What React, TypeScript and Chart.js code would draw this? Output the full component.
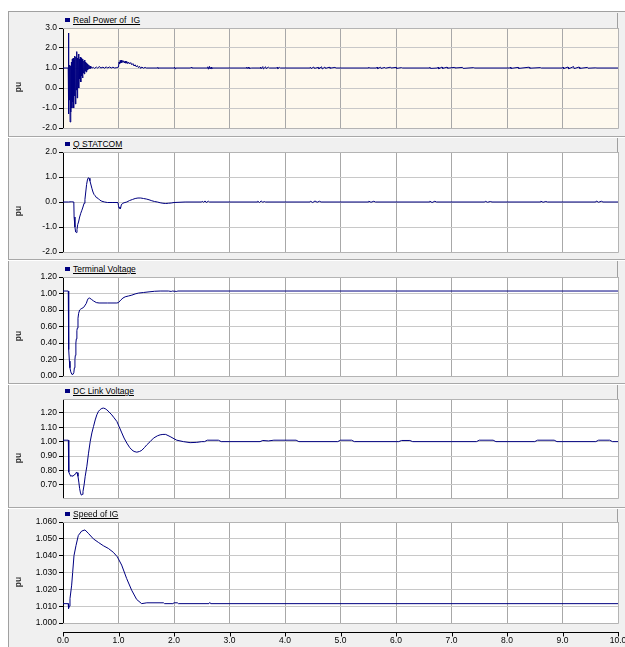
import React, { useEffect, useRef } from 'react';
import { Chart, registerables } from 'chart.js';

Chart.register(...registerables);

type Pt = [number, number];

// ---------- data (time in s, value in pu) ----------
const realPower: Pt[] = [
  [0, 1.0], [0.09, 1.0], [0.094, 1.0], [0.097, 2.75], [0.101, -1.3], [0.107, 1.2], [0.114, -0.6], [0.121, 1.15],
  [0.128, -1.7], [0.136, 1.1], [0.144, -1.2], [0.152, 1.3], [0.16, -1.0], [0.168, 1.45], [0.176, -0.7], [0.184, 1.5],
  [0.192, -1.0], [0.2, 1.4], [0.208, -0.4], [0.216, 1.6], [0.224, -0.8], [0.232, 1.55], [0.24, -0.1], [0.248, 1.82],
  [0.256, -0.5], [0.264, 1.5], [0.272, 0.2], [0.28, 1.7], [0.288, 0.0], [0.296, 1.45], [0.304, 0.45], [0.312, 1.55],
  [0.32, 0.3], [0.328, 1.5], [0.336, 0.6], [0.344, 1.4], [0.352, 0.5], [0.36, 1.45], [0.368, 0.75], [0.376, 1.35],
  [0.384, 0.7], [0.392, 1.4], [0.4, 0.85], [0.409, 1.3], [0.418, 0.8], [0.427, 1.25], [0.436, 0.9], [0.445, 1.2],
  [0.455, 0.95], [0.465, 1.15], [0.476, 0.97], [0.487, 1.1], [0.498, 0.98], [0.51, 1.06], [0.525, 1.0],
  [0.55, 1.03], [0.57, 0.98], [0.6, 1.05], [0.62, 1.0], [0.66, 1.07], [0.68, 1.0], [0.72, 1.04], [0.75, 0.99],
  [0.78, 1.06], [0.8, 1.0], [0.84, 1.05], [0.87, 1.0], [0.9, 1.04], [0.93, 1.0], [0.97, 1.02],
  [1.0, 1.05], [1.01, 1.3], [1.02, 1.2], [1.03, 1.38], [1.045, 1.25], [1.06, 1.4], [1.075, 1.28], [1.09, 1.36],
  [1.105, 1.25], [1.12, 1.35], [1.135, 1.24], [1.15, 1.32], [1.165, 1.22], [1.18, 1.3], [1.2, 1.2], [1.22, 1.27],
  [1.24, 1.16], [1.26, 1.22], [1.28, 1.1], [1.3, 1.16], [1.32, 1.06], [1.34, 1.12], [1.36, 1.02], [1.38, 1.08],
  [1.4, 0.98], [1.42, 1.05], [1.45, 0.99], [1.48, 1.03], [1.5, 1.0],
  [1.7, 1.0], [1.71, 1.04], [1.72, 0.97], [1.73, 1.0], [2.0, 1.0], [2.01, 1.05], [2.02, 0.96], [2.03, 1.0],
  [2.3, 1.0], [2.31, 1.04], [2.32, 1.0],
  [2.6, 1.0], [2.61, 1.06], [2.62, 0.94], [2.64, 1.08], [2.65, 0.95], [2.67, 1.05], [2.68, 0.97], [2.7, 1.0],
  [3.3, 1.0], [3.31, 1.04], [3.32, 0.97], [3.34, 1.05], [3.35, 0.98], [3.4, 1.0], [3.55, 1.0], [3.56, 1.05], [3.57, 0.96],
  [3.6, 1.07], [3.61, 0.95], [3.65, 1.06], [3.66, 0.97], [3.7, 1.04], [3.72, 1.0], [3.85, 1.0], [3.86, 1.04], [3.87, 0.97],
  [3.9, 1.03], [3.92, 1.0],
  [4.45, 1.0], [4.46, 1.04], [4.47, 0.97], [4.52, 1.05], [4.53, 0.98], [4.6, 1.03], [4.61, 0.96], [4.66, 1.06],
  [4.67, 0.95], [4.72, 1.05], [4.73, 0.98], [4.8, 1.04], [4.81, 0.99], [4.9, 1.03], [4.92, 1.0],
  [5.5, 1.0], [5.51, 1.04], [5.52, 1.0], [5.65, 1.0], [5.66, 1.05], [5.67, 0.97], [5.72, 1.04], [5.73, 0.98],
  [5.8, 1.03], [5.81, 0.99], [5.9, 1.04], [5.91, 1.0], [6.0, 1.03], [6.01, 0.98], [6.1, 1.02], [6.12, 1.0],
  [6.6, 1.0], [6.61, 1.04], [6.62, 0.98], [6.75, 1.0], [6.76, 1.05], [6.77, 0.96], [6.83, 1.05], [6.84, 0.98],
  [6.92, 1.04], [6.93, 0.99], [7.05, 1.03], [7.06, 1.0], [7.2, 1.03], [7.21, 0.98], [7.4, 1.02], [7.42, 1.0],
  [8.05, 1.0], [8.06, 1.04], [8.07, 0.98], [8.2, 1.03], [8.21, 0.98], [8.4, 1.04], [8.41, 0.99], [8.6, 1.02], [8.62, 1.0],
  [9.0, 1.0], [9.01, 1.04], [9.02, 0.97], [9.1, 1.05], [9.11, 0.96], [9.2, 1.07], [9.21, 0.97], [9.3, 1.05],
  [9.31, 0.98], [9.45, 1.03], [9.46, 0.99], [9.6, 1.01], [9.62, 1.0], [10.0, 1.0],
];

const qStatcom: Pt[] = [
  [0, 0.0], [0.1, 0.0], [0.15, 0.01], [0.195, 0.0], [0.2, -0.6], [0.215, -1.0], [0.228, -1.2], [0.24, -1.22],
  [0.252, -1.1], [0.265, -0.9], [0.28, -0.8], [0.3, -0.6], [0.32, -0.45], [0.34, -0.33], [0.36, -0.2], [0.38, -0.05],
  [0.395, 0.1], [0.41, 0.4], [0.425, 0.7], [0.44, 0.88], [0.455, 0.97], [0.47, 0.95], [0.485, 0.85], [0.5, 0.72],
  [0.52, 0.55], [0.54, 0.4], [0.56, 0.3], [0.58, 0.25], [0.6, 0.18], [0.63, 0.15], [0.66, 0.08], [0.7, 0.03],
  [0.75, 0.0], [0.8, -0.02], [0.9, -0.02], [0.99, -0.02], [1.0, -0.15], [1.01, -0.25], [1.025, -0.2], [1.035, -0.27],
  [1.05, -0.12], [1.07, -0.06], [1.1, -0.03], [1.15, 0.0], [1.2, 0.06], [1.25, 0.1], [1.3, 0.14], [1.35, 0.16],
  [1.4, 0.16], [1.45, 0.14], [1.5, 0.12], [1.55, 0.09], [1.6, 0.05], [1.65, 0.02], [1.7, 0.0], [1.75, -0.03],
  [1.8, -0.05], [1.85, -0.06], [1.9, -0.05], [1.95, -0.04], [2.0, -0.02], [2.2, 0.0],
  [2.5, 0.0], [2.51, 0.03], [2.53, -0.01], [2.56, 0.04], [2.58, -0.02], [2.62, 0.03], [2.64, 0.0],
  [3.5, 0.0], [3.51, 0.03], [3.54, -0.02], [3.57, 0.04], [3.6, -0.01], [3.63, 0.02], [3.65, 0.0],
  [4.45, 0.0], [4.46, 0.03], [4.5, -0.02], [4.54, 0.04], [4.58, -0.01], [4.62, 0.03], [4.65, 0.0],
  [5.5, 0.0], [5.51, 0.03], [5.55, -0.01], [5.6, 0.03], [5.63, 0.0],
  [6.6, 0.0], [6.61, 0.03], [6.65, -0.02], [6.7, 0.03], [6.73, 0.0],
  [7.6, 0.0], [7.61, 0.03], [7.65, -0.01], [7.7, 0.02], [7.73, 0.0],
  [8.6, 0.0], [8.61, 0.03], [8.65, -0.01], [8.7, 0.02], [8.73, 0.0],
  [9.6, 0.0], [9.61, 0.04], [9.65, -0.01], [9.7, 0.03], [9.73, 0.0], [10, 0.0],
];

const terminalVoltage: Pt[] = [
  [0, 1.03], [0.095, 1.03], [0.098, 0.85], [0.102, 0.55], [0.108, 0.32], [0.115, 0.18], [0.125, 0.1], [0.14, 0.05],
  [0.16, 0.02], [0.18, 0.02], [0.195, 0.04], [0.205, 0.1], [0.215, 0.2], [0.222, 0.25], [0.232, 0.4], [0.24, 0.45],
  [0.25, 0.55], [0.258, 0.58], [0.27, 0.7], [0.282, 0.76], [0.3, 0.8], [0.318, 0.81], [0.34, 0.82], [0.37, 0.83],
  [0.4, 0.86], [0.42, 0.88], [0.44, 0.92], [0.456, 0.94], [0.48, 0.945], [0.51, 0.93], [0.55, 0.91], [0.6, 0.89],
  [0.65, 0.885], [0.8, 0.885], [0.97, 0.885], [1.0, 0.89], [1.04, 0.92], [1.08, 0.945], [1.12, 0.96], [1.18, 0.97],
  [1.24, 0.98], [1.3, 0.995], [1.36, 1.005], [1.45, 1.012], [1.55, 1.02], [1.65, 1.027], [1.75, 1.03], [1.9, 1.03],
  [1.95, 1.025], [1.97, 1.03], [2.05, 1.025], [2.07, 1.03], [10, 1.03],
];

const dcLinkVoltage: Pt[] = [
  [0, 1.01], [0.096, 1.01], [0.1, 0.8], [0.104, 0.85], [0.108, 0.79], [0.12, 0.775], [0.14, 0.76], [0.16, 0.765],
  [0.18, 0.76], [0.2, 0.77], [0.225, 0.775], [0.245, 0.79], [0.255, 0.785], [0.27, 0.76], [0.285, 0.72], [0.3, 0.675],
  [0.315, 0.645], [0.33, 0.63], [0.345, 0.635], [0.36, 0.655], [0.38, 0.7], [0.4, 0.76], [0.43, 0.83], [0.46, 0.92],
  [0.49, 1.0], [0.52, 1.06], [0.55, 1.105], [0.58, 1.15], [0.61, 1.186], [0.64, 1.21], [0.67, 1.222], [0.7, 1.23],
  [0.73, 1.232], [0.76, 1.228], [0.79, 1.22], [0.83, 1.205], [0.88, 1.185], [0.92, 1.165], [0.97, 1.14], [1.01, 1.105],
  [1.06, 1.06], [1.1, 1.025], [1.15, 0.99], [1.2, 0.96], [1.24, 0.943], [1.28, 0.932], [1.33, 0.927], [1.38, 0.932],
  [1.42, 0.94], [1.47, 0.96], [1.51, 0.978], [1.57, 1.0], [1.63, 1.024], [1.7, 1.04], [1.75, 1.047], [1.8, 1.05],
  [1.85, 1.05], [1.93, 1.035], [2.0, 1.02], [2.05, 1.01], [2.17, 1.0], [2.29, 0.993], [2.41, 0.995], [2.5, 1.0],
  [2.55, 1.0], [2.6, 1.01], [2.8, 1.01], [2.85, 1.0], [3.55, 1.0], [3.6, 1.008], [3.7, 1.005], [3.8, 1.01],
  [4.2, 1.01], [4.25, 1.0], [4.95, 1.0], [5.0, 1.01], [5.2, 1.01], [5.25, 1.0], [6.05, 1.0], [6.1, 1.008],
  [6.25, 1.008], [6.3, 1.0], [7.45, 1.0], [7.5, 1.01], [7.75, 1.01], [7.8, 1.0], [8.5, 1.0], [8.55, 1.01],
  [8.85, 1.01], [8.9, 1.0], [9.6, 1.0], [9.65, 1.01], [9.85, 1.01], [9.9, 1.0], [10, 1.0],
];

const speedOfIG: Pt[] = [
  [0, 1.0115], [0.094, 1.0115], [0.1, 1.0086], [0.114, 1.01], [0.126, 1.0145], [0.156, 1.0225], [0.174, 1.03],
  [0.198, 1.04], [0.234, 1.046], [0.276, 1.052], [0.336, 1.0546], [0.396, 1.0553], [0.456, 1.0533], [0.547, 1.05],
  [0.637, 1.0479], [0.727, 1.0459], [0.817, 1.0443], [0.907, 1.042], [0.979, 1.0393], [1.057, 1.0344], [1.147, 1.0264],
  [1.237, 1.0195], [1.327, 1.014], [1.417, 1.0115], [1.51, 1.012], [1.81, 1.012], [1.83, 1.0115], [1.98, 1.0115],
  [2.0, 1.012], [2.06, 1.012], [2.08, 1.0115], [2.63, 1.0115], [2.645, 1.0122], [2.66, 1.0115], [10, 1.0115],
];

// ---------- styling / layout ----------
const FONT = "'Liberation Sans', Arial, sans-serif";
const LINE = '#000080';

interface PanelDef {
  title: string;
  data: Pt[];
  min: number;
  max: number;
  step: number;
  digits: number;
  sepTop: number;
  plotTop: number;
  plotBottom: number;
  bg: string;
  last?: boolean;
}

const panels: PanelDef[] = [
  { title: 'Real Power of  IG', data: realPower, min: -2, max: 3, step: 1, digits: 1, sepTop: 11, plotTop: 28, plotBottom: 128, bg: '#fef9ee' },
  { title: 'Q STATCOM', data: qStatcom, min: -2, max: 2, step: 1, digits: 1, sepTop: 136, plotTop: 152, plotBottom: 252, bg: '#ffffff' },
  { title: 'Terminal Voltage', data: terminalVoltage, min: 0, max: 1.2, step: 0.2, digits: 2, sepTop: 259, plotTop: 277, plotBottom: 376, bg: '#ffffff' },
  { title: 'DC Link Voltage', data: dcLinkVoltage, min: 0.61, max: 1.295, step: 0.1, digits: 2, sepTop: 383, plotTop: 399, plotBottom: 498, bg: '#ffffff' },
  { title: 'Speed of IG', data: speedOfIG, min: 1.0, max: 1.06, step: 0.01, digits: 3, sepTop: 507, plotTop: 522, plotBottom: 623, bg: '#ffffff', last: true },
];

const areaPlugin = {
  id: 'plotArea',
  beforeDraw(chart: any, _args: any, opts: any) {
    const { ctx, chartArea: a } = chart;
    ctx.save();
    ctx.fillStyle = opts.color || '#fff';
    ctx.fillRect(a.left, a.top, a.right - a.left, a.bottom - a.top);
    ctx.restore();
  },
  beforeDatasetsDraw(chart: any) {
    const { ctx, chartArea: a } = chart;
    ctx.save();
    ctx.strokeStyle = '#b4b4b4';
    ctx.lineWidth = 1;
    ctx.beginPath();
    const t = Math.round(a.top) + 0.5;
    const b = Math.round(a.bottom) + 0.5;
    const r = Math.round(a.right) + 0.5;
    ctx.moveTo(a.left, t); ctx.lineTo(r, t);
    ctx.moveTo(a.left, b); ctx.lineTo(r, b);
    ctx.moveTo(r, t); ctx.lineTo(r, b);
    ctx.stroke();
    ctx.restore();
  },
};

const axisPlugin = {
  id: 'timeAxis',
  afterDraw(chart: any) {
    const { ctx, chartArea: a } = chart;
    const s = chart.scales.x;
    const y0 = Math.round(a.bottom) + 9.5;
    ctx.save();
    ctx.strokeStyle = '#000';
    ctx.lineWidth = 1;
    ctx.beginPath();
    ctx.moveTo(Math.round(s.left), y0);
    ctx.lineTo(Math.round(s.right) + 1, y0);
    s.ticks.forEach((_t: any, i: number) => {
      const x = Math.round(s.getPixelForTick(i)) + 0.5;
      ctx.moveTo(x, y0);
      ctx.lineTo(x, y0 + 4);
    });
    ctx.stroke();
    ctx.restore();
  },
};

function PanelChart({ p }: { p: PanelDef }) {
  const ref = useRef<HTMLCanvasElement>(null);
  const top = p.plotTop - 8;
  const height = p.last ? 647 - top : p.plotBottom - p.plotTop + 16;
  const xHeight = p.last ? height - 8 - (p.plotBottom - p.plotTop) : 0;

  useEffect(() => {
    const canvas = ref.current;
    if (!canvas) return;
    const chart = new Chart(canvas, {
      type: 'line',
      data: {
        datasets: [
          {
            data: p.data.map(([x, y]) => ({ x, y })),
            borderColor: LINE,
            borderWidth: 1,
            pointRadius: 0,
            tension: 0,
            fill: false,
          },
        ],
      },
      options: {
        animation: false,
        responsive: false,
        maintainAspectRatio: false,
        events: [],
        layout: { padding: { top: 8, bottom: p.last ? 0 : 8, left: 0, right: 7 } },
        plugins: {
          legend: { display: false },
          tooltip: { enabled: false },
          plotArea: { color: p.bg },
        } as any,
        scales: {
          x: {
            type: 'linear',
            min: 0,
            max: 10,
            ticks: {
              stepSize: 1,
              display: !!p.last,
              autoSkip: false,
              maxRotation: 0,
              padding: 13,
              color: '#000',
              font: { family: FONT, size: 8.5 },
              callback: (v: any) => Number(v).toFixed(1),
            },
            grid: { color: '#a8a8a8', lineWidth: 1, drawTicks: false },
            border: { display: false },
            afterFit: (s: any) => {
              s.height = xHeight;
              s.paddingLeft = 0;
              s.paddingRight = 0;
            },
          },
          y: {
            type: 'linear',
            min: p.min,
            max: p.max,
            ticks: {
              stepSize: p.step,
              includeBounds: false,
              autoSkip: false,
              padding: 2,
              color: '#000',
              font: { family: FONT, size: 8.5 },
              callback: (v: any) => Number(v).toFixed(p.digits),
            },
            grid: { color: '#c8c8c8', lineWidth: 1, tickColor: '#000', tickLength: 4, drawTicks: true },
            border: { display: true, color: '#000', width: 1 },
            afterFit: (s: any) => {
              s.width = 55;
            },
          },
        },
      } as any,
      plugins: p.last ? [areaPlugin, axisPlugin] : [areaPlugin],
    });
    return () => chart.destroy();
  }, []);

  return (
    <canvas
      ref={ref}
      width={617}
      height={height}
      style={{ position: 'absolute', left: 8, top, width: 617, height, display: 'block' }}
    />
  );
}

function Strip({ p }: { p: PanelDef }) {
  const top = p.sepTop + 2;
  const center = (p.plotTop + p.plotBottom) / 2 + 9;
  return (
    <>
      <div
        style={{
          position: 'absolute',
          left: 63,
          top,
          width: 554,
          height: p.plotTop - top,
          background: '#f0f0f0',
          borderRight: '1px solid #a0a0a0',
        }}
      />
      <div style={{ position: 'absolute', left: 65, top: p.plotTop - 10, width: 5, height: 4, background: LINE }} />
      <div
        style={{
          position: 'absolute',
          left: 73,
          top: p.plotTop - 14,
          height: 12,
          lineHeight: '12px',
          fontFamily: FONT,
          fontSize: 8.5,
          color: '#000',
          textDecoration: 'underline',
          whiteSpace: 'pre',
        }}
      >
        {p.title}
      </div>
      <div
        style={{
          position: 'absolute',
          left: 18,
          top: center,
          transform: 'translate(-50%, -50%) rotate(-90deg)',
          fontFamily: FONT,
          fontSize: 8.5,
          fontWeight: 'bold',
          color: '#333',
          whiteSpace: 'nowrap',
          lineHeight: '10px',
        }}
      >
        pu
      </div>
    </>
  );
}

export default function App() {
  return (
    <div
      style={{
        position: 'absolute',
        left: 0,
        top: 0,
        width: 625,
        height: 647,
        background: '#ffffff',
        overflow: 'hidden',
      }}
    >
      <div
        style={{
          position: 'absolute',
          left: 8,
          top: 11,
          width: 617,
          height: 636,
          background: '#f0f0f0',
          borderLeft: '1px solid #a0a0a0',
          borderTop: '1px solid #a0a0a0',
          boxSizing: 'border-box',
        }}
      />
      {panels.slice(1).map((p) => (
        <div
          key={'sep' + p.title}
          style={{
            position: 'absolute',
            left: 8,
            top: p.sepTop,
            width: 617,
            height: 1,
            background: '#a8a8a8',
            borderBottom: '1px solid #ffffff',
          }}
        />
      ))}
      {panels.map((p) => (
        <PanelChart key={'c' + p.title} p={p} />
      ))}
      {panels.map((p) => (
        <Strip key={'s' + p.title} p={p} />
      ))}
    </div>
  );
}
